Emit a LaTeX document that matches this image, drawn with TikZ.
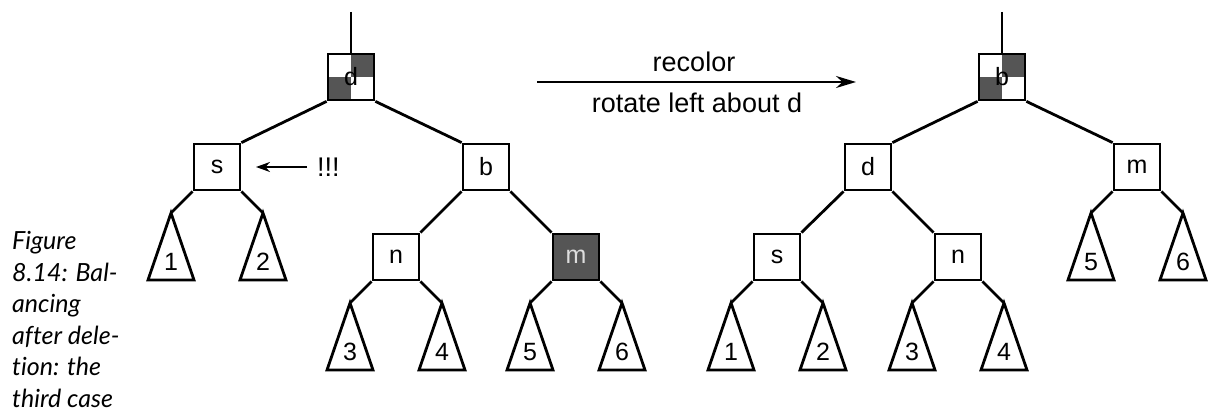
\documentclass[tikz,border=0pt]{standalone}
\usepackage{fontspec}
\setmainfont{Liberation Sans}
\newfontfamily\capfont[Ligatures=NoCommon]{Lato}
\usetikzlibrary{arrows.meta}
\definecolor{darkg}{HTML}{555555}
\definecolor{lightg}{HTML}{DDDDDD}
\tikzset{
  edge/.style={line width=2.8pt, line join=miter},
  box/.style={draw, line width=2.8pt, minimum size=46pt, inner sep=0pt, fill=white,
    font=\fontsize{25}{30}\selectfont},
  redbox/.style={box, fill=darkg, text=lightg},
  mixbox/.style={box, path picture={
    \fill[darkg] (path picture bounding box.center) rectangle (path picture bounding box.north east);
    \fill[darkg] (path picture bounding box.center) rectangle (path picture bounding box.south west);}},
  lbl/.style={font=\fontsize{25}{30}\selectfont, inner sep=0pt},
  optext/.style={font=\fontsize{27}{32}\selectfont, inner sep=0pt},
}
\newcommand\tri[4]{%
  \coordinate (#1) at (#2,#3);
  \draw[edge] (#1) -- ++(-23,67) -- ++(46,0) -- cycle;
  \node[lbl] (#1lab) at (#2,#3+49) {#4};}
\begin{document}
\begin{tikzpicture}[x=1pt,y=-1pt]
\useasboundingbox (0,0) rectangle (1215,414);
% caption
\node[anchor=north west, inner sep=0pt, align=left,
  font=\capfont\itshape\fontsize{25}{31.6}\selectfont] (cap) at (12,231)
  {Figure\\8.14: Bal-\\ancing\\after dele-\\tion: the\\third case};
% ---------- left tree
\node[mixbox] (dL) at (351,77) {d};
\node[box] (sL) at (217,167) {s};
\node[box] (bL) at (486,167) {b};
\node[box] (nL) at (396,257) {n};
\node[redbox] (mL) at (576,257) {m};
\coordinate (topL) at (351,12);
\draw[edge] (topL) -- (dL.north);
\draw[edge] (dL.south west) -- (sL.north east);
\draw[edge] (dL.south east) -- (bL.north west);
\draw[edge] (bL.south west) -- (nL.north east);
\draw[edge] (bL.south east) -- (mL.north west);
\tri{aL1}{171}{213}{1}
\tri{aL2}{263}{213}{2}
\tri{aL3}{350}{303}{3}
\tri{aL4}{442}{303}{4}
\tri{aL5}{530}{303}{5}
\tri{aL6}{622}{303}{6}
\draw[edge] (sL.south west) -- (aL1);
\draw[edge] (sL.south east) -- (aL2);
\draw[edge] (nL.south west) -- (aL3);
\draw[edge] (nL.south east) -- (aL4);
\draw[edge] (mL.south west) -- (aL5);
\draw[edge] (mL.south east) -- (aL6);
% warning arrow
\coordinate (wS) at (307,167);
\coordinate (wE) at (256,167);
\draw[line width=2.2pt, -{Stealth[length=14pt,width=10pt]}] (wS) -- (wE);
\node[optext, anchor=west] (exc) at (317,167) {!!!};
% ---------- transformation arrow
\coordinate (aS) at (537,82);
\coordinate (aE) at (856,82);
\draw[line width=2.2pt, -{Stealth[length=20pt,width=12pt]}] (aS) -- (aE);
\node[optext] (rec) at (694,62) {recolor};
\node[optext] (rot) at (697,103) {rotate left about d};
% ---------- right tree
\node[mixbox] (bR) at (1002,77) {b};
\node[box] (dR) at (868,167) {d};
\node[box] (mR) at (1137,167) {m};
\node[box] (sR) at (777,257) {s};
\node[box] (nR) at (958,257) {n};
\coordinate (topR) at (1002,12);
\draw[edge] (topR) -- (bR.north);
\draw[edge] (bR.south west) -- (dR.north east);
\draw[edge] (bR.south east) -- (mR.north west);
\draw[edge] (dR.south west) -- (sR.north east);
\draw[edge] (dR.south east) -- (nR.north west);
\tri{aR1}{731}{303}{1}
\tri{aR2}{823}{303}{2}
\tri{aR3}{912}{303}{3}
\tri{aR4}{1004}{303}{4}
\tri{aR5}{1091}{213}{5}
\tri{aR6}{1183}{213}{6}
\draw[edge] (sR.south west) -- (aR1);
\draw[edge] (sR.south east) -- (aR2);
\draw[edge] (nR.south west) -- (aR3);
\draw[edge] (nR.south east) -- (aR4);
\draw[edge] (mR.south west) -- (aR5);
\draw[edge] (mR.south east) -- (aR6);
\end{tikzpicture}
\end{document}
